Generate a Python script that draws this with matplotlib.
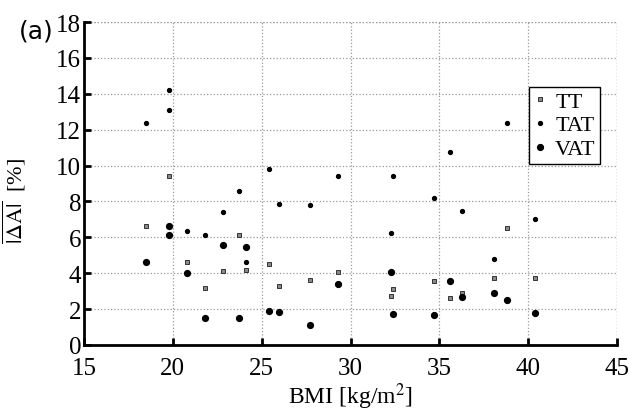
import matplotlib.pyplot as plt

plt.rcParams['font.family'] = ['Liberation Serif', 'DejaVu Serif']
plt.rcParams['mathtext.fontset'] = 'stix'

# BMI of each subject and the three |dA| series
bmi_tt = [18.5, 19.8, 20.8, 21.8, 22.8, 23.7, 24.1, 25.4, 26.0, 27.7, 29.3,
          32.4, 32.3, 34.7, 35.6, 36.3, 38.1, 38.8, 40.4]
tt = [6.61, 9.40, 4.65, 3.18, 4.10, 6.13, 4.20, 4.53, 3.27, 3.60, 4.05,
      3.12, 2.75, 3.55, 2.62, 2.92, 3.73, 6.50, 3.72]

bmi_tat = [18.5, 19.8, 19.8, 20.8, 21.8, 22.8, 23.7, 24.1, 25.4, 26.0, 27.7,
           29.3, 32.4, 32.3, 34.7, 35.6, 36.3, 38.1, 38.8, 40.4]
tat = [12.39, 14.21, 13.12, 6.37, 6.13, 7.40, 8.60, 4.63, 9.81, 7.88, 7.79,
       9.40, 9.40, 6.26, 8.19, 10.74, 7.45, 4.79, 12.39, 7.04]

bmi_vat = [18.5, 19.8, 19.8, 20.8, 21.8, 22.8, 23.7, 24.1, 25.4, 26.0, 27.7,
           29.3, 32.3, 32.4, 34.7, 35.6, 36.3, 38.1, 38.8, 40.4]
vat = [4.63, 6.61, 6.13, 4.01, 1.49, 5.59, 1.52, 5.46, 1.88, 1.84, 1.13,
       3.40, 4.09, 1.73, 1.67, 3.55, 2.66, 2.88, 2.49, 1.80]

fig = plt.figure(figsize=(6.29, 4.14), dpi=100)
ax = fig.add_axes([0.1335, 0.1643, 0.8475, 0.7801])

ax.plot(bmi_tt, tt, ls='none', marker='s', ms=3.0, mfc='#8a8a8a', mec='#333333', mew=0.7, label='TT')
ax.plot(bmi_tat, tat, ls='none', marker='o', ms=2.8, mfc='black', mec='black', label='TAT')
ax.plot(bmi_vat, vat, ls='none', marker='o', ms=4.2, mfc='black', mec='black', label='VAT')

ax.set_xlim(15, 45)
ax.set_ylim(0, 18)
ax.set_xticks(range(15, 46, 5))
ax.set_yticks(range(0, 19, 2))
ax.grid(True, color='#9a9a9a', ls=':', lw=0.9)
ax.set_axisbelow(True)

for s in ['top', 'right']:
    ax.spines[s].set_visible(False)
# dotted lines at the far edges, like the grid
ax.axhline(18, color='#9a9a9a', ls=':', lw=0.9, zorder=0)
ax.axvline(45, color='#9a9a9a', ls=':', lw=0.9, zorder=0)
for s in ['left', 'bottom']:
    ax.spines[s].set_linewidth(2.0)

ax.tick_params(direction='in', length=5, width=2, labelsize=18, pad=2)
ax.tick_params(axis='x', pad=9)
for lbl in ax.get_xticklabels() + ax.get_yticklabels():
    lbl.set_family('Liberation Serif')

ax.set_xlabel('BMI [kg/m$^2$]', fontsize=17, labelpad=1)
ax.set_ylabel(r'$\overline{|\Delta \mathrm{A}|}$  [%]', fontsize=16)
ax.yaxis.set_label_coords(-0.105, 0.45)

fig.text(0.03, 0.925, '(a)', fontsize=18, family=['DejaVu Sans'], va='center')

leg = ax.legend(loc='upper left', bbox_to_anchor=(0.834, 0.8), fontsize=16,
                frameon=True, fancybox=False, edgecolor='black', framealpha=1,
                handlelength=0.6, handletextpad=0.4, borderpad=0.2,
                labelspacing=0.15, borderaxespad=0, markerscale=1.0)
leg.get_frame().set_linewidth(1.0)

fig.savefig('out.png', dpi=100)
